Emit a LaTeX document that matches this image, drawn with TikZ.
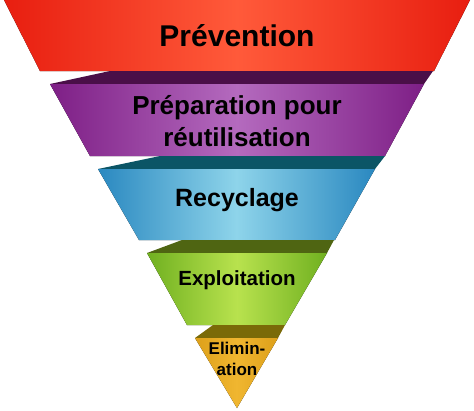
\documentclass[tikz,border=0pt]{standalone}
\usepackage{fontspec}
\setmainfont{Liberation Sans}
\usetikzlibrary{positioning}

\definecolor{redEdge}{HTML}{E81E10}
\definecolor{redMid}{HTML}{FF5A3A}
\definecolor{purpleEdge}{HTML}{7E1F86}
\definecolor{purpleMid}{HTML}{B46ABE}
\definecolor{purpleBack}{HTML}{4A0F48}
\definecolor{blueEdge}{HTML}{2A88C0}
\definecolor{blueMid}{HTML}{8ED4EA}
\definecolor{blueBack}{HTML}{0B5566}
\definecolor{greenEdge}{HTML}{70B020}
\definecolor{greenMid}{HTML}{B8E24E}
\definecolor{greenBack}{HTML}{4F6512}
\definecolor{orangeEdge}{HTML}{DDA01A}
\definecolor{orangeMid}{HTML}{F0B630}
\definecolor{orangeBack}{HTML}{7A6A08}

\begin{document}
\begin{tikzpicture}[
    x=1pt, y=-1pt,
    band/.style={draw=none},
    back/.style={draw=none},
    label/.style={align=center, font=\bfseries, text=black, inner sep=0pt}
]
    \useasboundingbox (0,0) rectangle (474,410);

    % Prevention layer
    \fill [band, left color=redEdge, right color=redEdge, middle color=redMid]
        (4,0) -- (470,0) -- (434,71) -- (40,71) -- cycle;
    \node (prevention) [label, font=\bfseries\fontsize{30}{34}\selectfont] at (237,36) {Prévention};

    % Preparation layer
    \fill [back, fill=purpleBack] (110,71) -- (433,71) -- (424,84) -- (50,84) -- cycle;
    \fill [band, left color=purpleEdge, right color=purpleEdge, middle color=purpleMid]
        (50,84) -- (424,84) -- (385,156) -- (90,156) -- cycle;
    \node (preparation) [label, font=\bfseries\fontsize{26}{32}\selectfont] at (237,121) {Préparation pour\\réutilisation};

    % Recycling layer
    \fill [back, fill=blueBack] (160,156) -- (385,156) -- (375,169) -- (98,169) -- cycle;
    \fill [band, left color=blueEdge, right color=blueEdge, middle color=blueMid]
        (98,169) -- (375,169) -- (335,240) -- (139,240) -- cycle;
    \node (recycling) [label, font=\bfseries\fontsize{25}{28}\selectfont] at (237,200) {Recyclage};

    % Exploitation layer
    \fill [back, fill=greenBack] (182,240) -- (334,240) -- (327,253) -- (147,253) -- cycle;
    \fill [band, left color=greenEdge, right color=greenEdge, middle color=greenMid]
        (147,253) -- (327,253) -- (285,325) -- (187,325) -- cycle;
    \node (exploitation) [label, font=\bfseries\fontsize{20.5}{24}\selectfont] at (237,280) {Exploitation};

    % Elimination layer
    \fill [back, fill=orangeBack] (213,325) -- (285,325) -- (278,338) -- (195,338) -- cycle;
    \fill [band, left color=orangeEdge, right color=orangeEdge, middle color=orangeMid]
        (195,338) -- (278,338) -- (237,408) -- cycle;
    \node (elimination) [label, font=\bfseries\fontsize{17}{21}\selectfont] at (237,359) {Elimin-\\ation};

\end{tikzpicture}
\end{document}
